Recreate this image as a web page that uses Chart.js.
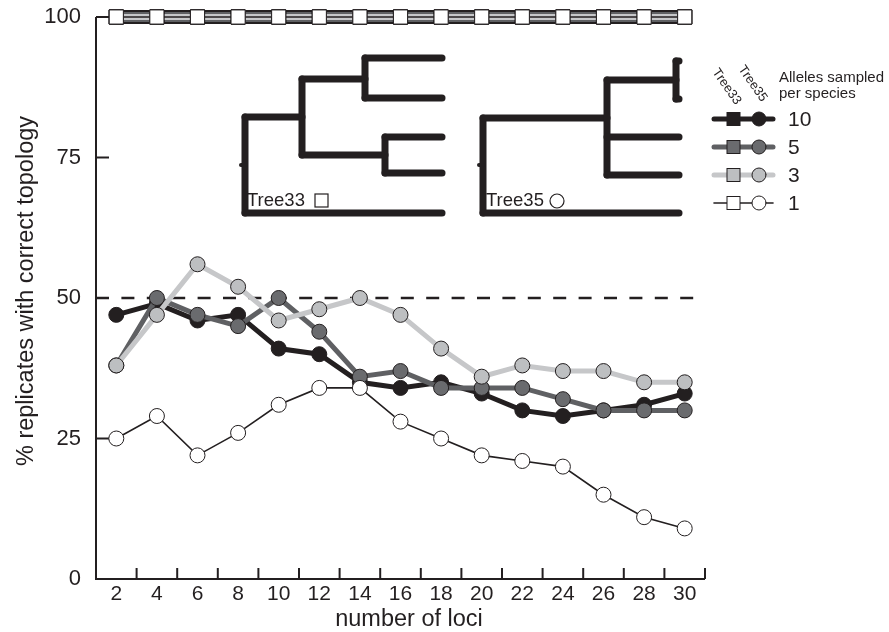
<!DOCTYPE html>
<html>
<head>
<meta charset="utf-8">
<script src="https://cdn.jsdelivr.net/npm/chart.js@4.4.1/dist/chart.umd.min.js"></script>
<style>
html,body{margin:0;padding:0;background:#fff;}
#wrap{width:889px;height:632px;position:relative;}
</style>
</head>
<body>
<div id="wrap"><canvas id="c" width="889" height="632"></canvas></div>
<script>
// ---------- data ----------
const loci = ['2','4','6','8','10','12','14','16','18','20','22','24','26','28','30'];
const yTickValues = [0, 25, 50, 75, 100];
const alleleLabels = ['10', '5', '3', '1'];
const referenceLine = 50;
const xTitle = 'number of loci';
const yTitle = '% replicates with correct topology';

// Tree33 (squares) – every replicate correct
const tree33_a10 = [100,100,100,100,100,100,100,100,100,100,100,100,100,100,100];
const tree33_a5  = [100,100,100,100,100,100,100,100,100,100,100,100,100,100,100];
const tree33_a3  = [100,100,100,100,100,100,100,100,100,100,100,100,100,100,100];
const tree33_a1  = [100,100,100,100,100,100,100,100,100,100,100,100,100,100,100];

// Tree35 (circles)
const tree35_a10 = [47,49,46,47,41,40,35,34,35,33,30,29,30,31,33];
const tree35_a5  = [38,50,47,45,50,44,36,37,34,34,34,32,30,30,30];
const tree35_a3  = [38,47,56,52,46,48,50,47,41,36,38,37,37,35,35];
const tree35_a1  = [25,29,22,26,31,34,34,28,25,22,21,20,15,11,9];

// ---------- styles ----------
const INK = '#231f20';
const DARK = '#6a6b6e';
const DARKLINE = '#5f6063';
const LIGHT = '#bdbfc1';
const LIGHTLINE = '#c6c7c9';
const FONT = '"Liberation Sans", Arial, Helvetica, sans-serif';

const seriesStyle = [
  {line: INK, fill: INK, width: 5},
  {line: DARKLINE, fill: DARK, width: 5},
  {line: LIGHTLINE, fill: LIGHT, width: 5},
  {line: INK, fill: '#ffffff', width: 1.6}
];

function t33(data, lw, st, order) {
  return {data, borderColor: st.line, borderWidth: lw, backgroundColor: st.fill,
    pointStyle: 'rect', pointRadius: 10, pointBorderColor: INK, pointBorderWidth: 1,
    pointBackgroundColor: st.fill, tension: 0, clip: false, order};
}
function t35(data, st, order) {
  return {data, borderColor: st.line, borderWidth: st.width, backgroundColor: st.fill,
    pointStyle: 'circle', pointRadius: 7.5, pointBorderColor: INK, pointBorderWidth: 1,
    pointBackgroundColor: st.fill, tension: 0, clip: false, order};
}

// ---------- inset trees (offsets from root/bottom corner) ----------
const tree33Segs = [
  [0,-96, 0,0],[0,0,197,0],[0,-96,57,-96],[57,-134,57,-58],
  [57,-134,120,-134],[120,-155,120,-115],[120,-155,197,-155],[120,-115,197,-115],
  [57,-58,140,-58],[140,-76,140,-40],[140,-76,197,-76],[140,-40,197,-40]
];
const tree35Segs = [
  [0,-95,0,0],[0,0,196,0],[0,-95,124,-95],[124,-133,124,-38],
  [124,-133,193,-133],[193,-152,193,-114],[193,-152,196,-152],[193,-114,196,-114],
  [124,-76,196,-76],[124,-38,196,-38]
];

const decor = {
  id: 'decor',
  beforeDatasetsDraw(chart) {
    const {ctx, chartArea: ca, scales: {x, y}} = chart;
    const y0 = y.getPixelForValue(0), y100 = y.getPixelForValue(100);
    ctx.save();
    ctx.strokeStyle = INK;
    ctx.lineWidth = 2;
    ctx.lineCap = 'butt';
    ctx.beginPath();
    ctx.moveTo(ca.left, y100);
    ctx.lineTo(ca.left, y0);
    ctx.lineTo(ca.right, y0);
    ctx.stroke();
    yTickValues.forEach(v => {
      if (v === 0) return;
      const py = y.getPixelForValue(v);
      ctx.beginPath(); ctx.moveTo(ca.left, py); ctx.lineTo(ca.left + 13, py); ctx.stroke();
    });
    const step = x.getPixelForValue(1) - x.getPixelForValue(0);
    for (let i = 1; i <= loci.length; i++) {
      const px = x.getPixelForValue(i) - step / 2;
      ctx.beginPath(); ctx.moveTo(px, y0); ctx.lineTo(px, y0 - 11); ctx.stroke();
    }
    // dashed reference line
    const pr = y.getPixelForValue(referenceLine);
    ctx.setLineDash([13, 12.4]);
    ctx.lineWidth = 2.5;
    ctx.beginPath(); ctx.moveTo(ca.left, pr); ctx.lineTo(ca.right - 7, pr); ctx.stroke();
    ctx.setLineDash([]);
    ctx.restore();
  },
  afterDraw(chart) {
    const {ctx, chartArea: ca} = chart;
    ctx.save();
    // axis titles
    ctx.fillStyle = INK;
    ctx.font = '23.5px ' + FONT;
    ctx.textAlign = 'center';
    ctx.textBaseline = 'middle';
    ctx.fillText(xTitle, ca.left + 313, 620);
    ctx.save();
    ctx.translate(27, ca.top + 274);
    ctx.rotate(-Math.PI / 2);
    ctx.fillText(yTitle, 0, 0);
    ctx.restore();
    ctx.textAlign = 'left';

    // trees
    function drawTree(segs, ox, oy) {
      ctx.strokeStyle = INK; ctx.lineWidth = 7; ctx.lineCap = 'round';
      segs.forEach(s => { ctx.beginPath(); ctx.moveTo(ox + s[0], oy + s[1]); ctx.lineTo(ox + s[2], oy + s[3]); ctx.stroke(); });
      ctx.beginPath(); ctx.moveTo(ox - 4, oy - 48); ctx.lineTo(ox, oy - 48); ctx.lineWidth = 4; ctx.stroke();
    }
    const t33x = ca.left + 149, t33y = ca.top + 196;
    const t35x = ca.left + 387, t35y = ca.top + 196;
    drawTree(tree33Segs, t33x, t33y);
    drawTree(tree35Segs, t35x, t35y);
    ctx.fillStyle = INK;
    ctx.font = '18.5px ' + FONT;
    ctx.textBaseline = 'middle';
    ctx.fillText('Tree33', t33x + 2, t33y - 12);
    ctx.fillText('Tree35', t35x + 3, t35y - 12);
    ctx.lineWidth = 1.2; ctx.strokeStyle = INK; ctx.fillStyle = '#fff';
    ctx.fillRect(t33x + 70, t33y - 19, 13, 13); ctx.strokeRect(t33x + 70, t33y - 19, 13, 13);
    ctx.beginPath(); ctx.arc(t35x + 74, t35y - 12, 7, 0, Math.PI * 2); ctx.fill(); ctx.stroke();

    // legend
    const lx = ca.right;
    ctx.fillStyle = INK;
    ctx.font = '13px ' + FONT;
    ctx.textBaseline = 'middle';
    [['Tree33', lx + 10, 70], ['Tree35', lx + 36, 67]].forEach(([t, px, py]) => {
      ctx.save(); ctx.translate(px, py); ctx.rotate(55 * Math.PI / 180); ctx.fillText(t, 0, 0); ctx.restore();
    });
    ctx.font = '15px ' + FONT;
    ctx.fillText('Alleles sampled', lx + 74, 78);
    ctx.fillText('per species', lx + 74, 94);
    const rows = [119, 147, 175, 203];
    alleleLabels.forEach((lab, i) => {
      const st = seriesStyle[i];
      const ry = rows[i];
      ctx.strokeStyle = st.line; ctx.lineWidth = st.width; ctx.lineCap = 'round';
      ctx.beginPath(); ctx.moveTo(lx + 9, ry); ctx.lineTo(lx + 68, ry); ctx.stroke();
      ctx.lineWidth = 1; ctx.strokeStyle = INK; ctx.fillStyle = st.fill;
      ctx.fillRect(lx + 22, ry - 6.5, 13, 13); ctx.strokeRect(lx + 22, ry - 6.5, 13, 13);
      ctx.beginPath(); ctx.arc(lx + 54, ry, 7, 0, Math.PI * 2); ctx.fill(); ctx.stroke();
      ctx.fillStyle = INK; ctx.font = '21px ' + FONT; ctx.textBaseline = 'middle';
      ctx.fillText(lab, lx + 83, ry + 1);
    });
    ctx.restore();
  }
};

new Chart(document.getElementById('c'), {
  type: 'line',
  data: {
    labels: loci,
    datasets: [
      t33(tree33_a10, 14, seriesStyle[0], 10),
      t33(tree33_a5, 10, seriesStyle[1], 9),
      t33(tree33_a3, 6, seriesStyle[2], 8),
      t33(tree33_a1, 1.6, seriesStyle[3], 7),
      t35(tree35_a10, seriesStyle[0], 4),
      t35(tree35_a5, seriesStyle[1], 3),
      t35(tree35_a3, seriesStyle[2], 2),
      t35(tree35_a1, seriesStyle[3], 1)
    ]
  },
  options: {
    responsive: false,
    animation: false,
    events: [],
    layout: {autoPadding: false, padding: {top: 17, right: 184, left: 0, bottom: 0}},
    plugins: {legend: {display: false}, tooltip: {enabled: false}, title: {display: false}},
    scales: {
      x: {
        type: 'category', offset: true,
        grid: {display: false, drawTicks: false},
        border: {display: false},
        ticks: {color: INK, font: {family: FONT, size: 21}, padding: 3, maxRotation: 0, autoSkip: false},
        title: {display: false},
        afterFit: s => { s.height = 53; s.paddingLeft = 0; s.paddingRight = 0; s.paddingTop = 0; s.paddingBottom = 0; }
      },
      y: {
        min: 0, max: 100,
        afterBuildTicks: s => { s.ticks = yTickValues.map(v => ({value: v})); },
        grid: {display: false, drawTicks: false},
        border: {display: false},
        ticks: {color: INK, font: {family: FONT, size: 22}, padding: 15},
        title: {display: false},
        afterFit: s => { s.width = 96; s.paddingTop = 0; s.paddingBottom = 0; s.paddingLeft = 0; s.paddingRight = 0; }
      }
    }
  },
  plugins: [decor]
});
</script>
</body>
</html>
